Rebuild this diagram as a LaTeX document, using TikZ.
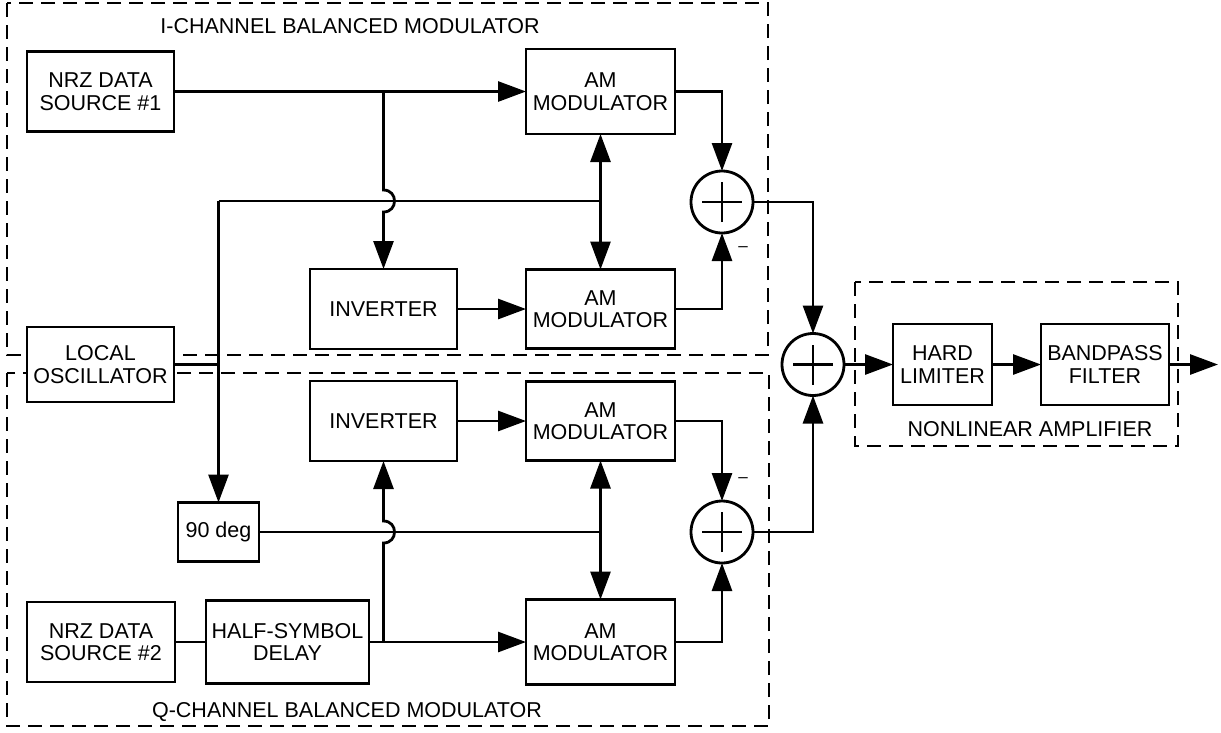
\documentclass[tikz,border=0pt]{standalone}
\usepackage{fontspec}
\setmainfont{Liberation Sans}
\usetikzlibrary{arrows.meta}
\begin{document}
\begin{tikzpicture}[x=1pt,y=-1pt,
  every node/.style={font=\fontsize{21.5pt}{22.5pt}\selectfont},
  blk/.style={draw, line width=2.8pt, fill=white, inner sep=0pt, outer sep=0pt, align=center},
  sum/.style={circle, draw, line width=2.8pt, fill=white, minimum size=62pt, inner sep=0pt, outer sep=0pt,
    path picture={\draw[line width=2.8pt]
      ([xshift=-20pt]path picture bounding box.center) -- ([xshift=20pt]path picture bounding box.center)
      ([yshift=-20pt]path picture bounding box.center) -- ([yshift=20pt]path picture bounding box.center);}},
  wire/.style={line width=2.8pt},
  feed/.style={wire, -{Triangle[length=28pt,width=20pt]}},
  both/.style={wire, {Triangle[length=28pt,width=20pt]}-{Triangle[length=28pt,width=20pt]}},
  group/.style={line width=2.2pt, dash pattern=on 14pt off 8pt},
  caption/.style={anchor=base},
  minus/.style={font=\fontsize{17pt}{17pt}\selectfont, inner sep=0pt}]

\useasboundingbox (0,0) rectangle (1221,732);

% dashed group outlines
\draw[group] (7,3) rectangle (768,355);
\draw[group] (7,373) rectangle (769,726);
\draw[group] (855,282) rectangle (1178,446);

\node[caption] (ititle) at (350,33) {I-CHANNEL BALANCED MODULATOR};
\node[caption] (qtitle) at (347,717) {Q-CHANNEL BALANCED MODULATOR};
\node[caption] (ntitle) at (1030,436) {NONLINEAR AMPLIFIER};

% I channel
\node[blk, minimum width=147pt, minimum height=80pt] (src1) at (100.5,91.5) {NRZ DATA\\SOURCE \#1};
\node[blk, minimum width=149pt, minimum height=85pt] (amI1) at (600.5,91.5) {AM\\MODULATOR};
\node[blk, minimum width=147pt, minimum height=80pt] (invI) at (383.5,309) {INVERTER};
\node[blk, minimum width=149pt, minimum height=79pt] (amI2) at (600.5,309) {AM\\MODULATOR};
\node[sum] (sumI) at (722,202) {};

% oscillator and quadrature shift
\node[blk, minimum width=147pt, minimum height=75pt] (lo) at (100.5,364.5) {LOCAL\\OSCILLATOR};
\node[blk, minimum width=81pt, minimum height=59pt] (deg) at (218.5,532) {90 deg};

% Q channel
\node[blk, minimum width=147pt, minimum height=80pt] (invQ) at (383.5,421) {INVERTER};
\node[blk, minimum width=149pt, minimum height=79pt] (amQ1) at (600.5,421) {AM\\MODULATOR};
\node[blk, minimum width=148pt, minimum height=80pt] (src2) at (101,642) {NRZ DATA\\SOURCE \#2};
\node[blk, minimum width=163pt, minimum height=83pt] (half) at (287.5,642) {HALF-SYMBOL\\DELAY};
\node[blk, minimum width=149pt, minimum height=85pt] (amQ2) at (600.5,642) {AM\\MODULATOR};
\node[sum] (sumQ) at (722,532) {};

% combiner and amplifier
\node[sum] (sumT) at (813,364.5) {};
\node[blk, minimum width=99pt, minimum height=81pt] (hl) at (942.5,364.5) {HARD\\LIMITER};
\node[blk, minimum width=128pt, minimum height=81pt] (bpf) at (1105,364.5) {BANDPASS\\FILTER};
\coordinate (out) at (1218,364.5);

\node[minus] (mI) at (743,249) {\textendash};
\node[minus] (mQ) at (743,480) {\textendash};

% carrier distribution
\coordinate (loI) at (218.5,201);
\coordinate (cI) at (600.5,201);
\coordinate (cQ) at (600.5,532);
\draw[wire] (lo.east) -- (lo.east -| deg.north);
\draw[feed] (loI) -- (deg.north);
\draw[wire] (loI) -- (cI);
\draw[both] (amI1.south) -- (amI2.north);
\draw[wire] (deg.east) -- (cQ);
\draw[both] (amQ1.south) -- (amQ2.north);

% I data paths
\coordinate (jI) at (383.5,91.5);
\draw[feed] (src1.east) -- (amI1.west);
\draw[feed] (jI) -- (383.5,190) .. controls (398.2,190) and (398.2,212) .. (383.5,212) -- (invI.north);
\draw[feed] (invI.east) -- (amI2.west);
\draw[feed] (amI1.east) -| (sumI.north);
\draw[feed] (amI2.east) -| (sumI.south);

% Q data paths
\coordinate (jQ) at (383.5,642);
\draw[wire] (src2.east) -- (half.west);
\draw[feed] (half.east) -- (amQ2.west);
\draw[feed] (jQ) -- (383.5,543) .. controls (398.2,543) and (398.2,521) .. (383.5,521) -- (invQ.south);
\draw[feed] (invQ.east) -- (amQ1.west);
\draw[feed] (amQ1.east) -| (sumQ.north);
\draw[feed] (amQ2.east) -| (sumQ.south);

% combining and output chain
\draw[feed] (sumI.east) -| (sumT.north);
\draw[feed] (sumQ.east) -| (sumT.south);
\draw[feed] (sumT.east) -- (hl.west);
\draw[feed] (hl.east) -- (bpf.west);
\draw[feed] (bpf.east) -- (out);
\end{tikzpicture}
\end{document}
